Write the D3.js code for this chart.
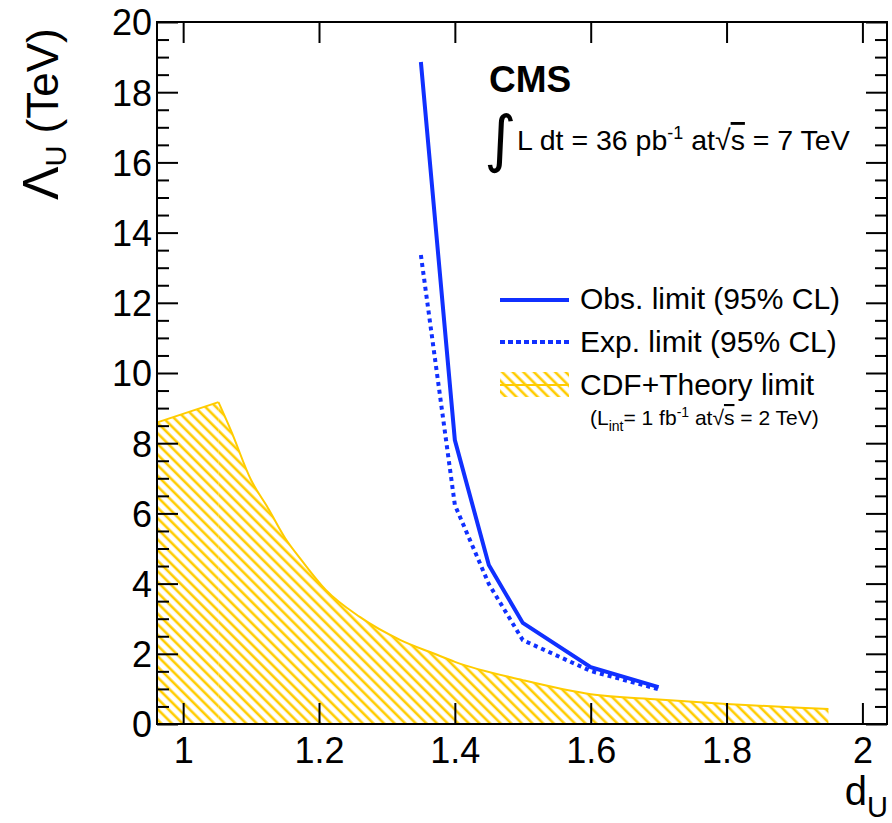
<!DOCTYPE html>
<html>
<head>
<meta charset="utf-8">
<script src="https://cdn.jsdelivr.net/npm/d3@7"></script>
<style>
  body { margin: 0; background: #fff; }
  svg { font-family: "Liberation Sans", Arial, sans-serif; }
  .axis path { display: none; }
  .axis line { stroke: #000; stroke-width: 2; }
  .axis text { font-size: 36px; fill: #000; font-family: "Liberation Sans", Arial, sans-serif; }
</style>
</head>
<body>
<svg id="chart" width="892" height="823"></svg>
<script>
// observed / expected CMS limits
const limitD = [1.35, 1.4, 1.45, 1.5, 1.6, 1.7];
const obsLimit = [18.86, 8.09, 4.53, 2.88, 1.62, 1.05];
const expLimit = [13.36, 6.24, 3.99, 2.39, 1.51, 0.99];

// CDF + theory excluded region (upper edge)
const cdfD = [0.96, 1.052, 1.07, 1.1, 1.125, 1.15, 1.175, 1.21, 1.26, 1.32, 1.37, 1.4, 1.5, 1.6, 1.7, 1.8, 1.9, 1.95];
const cdfLimit = [8.58, 9.17, 8.38, 6.95, 6.15, 5.3, 4.65, 3.82, 3.05, 2.39, 2.0, 1.77, 1.25, 0.85, 0.7, 0.57, 0.47, 0.43];

const xTicks = [1, 1.2, 1.4, 1.6, 1.8, 2];
const yTicks = [0, 2, 4, 6, 8, 10, 12, 14, 16, 18, 20];

const blue = "#1030ff";
const gold = "#ffcc00";

let svg = d3.select("#chart");
let margin = { top: 22, right: 5, bottom: 99, left: 157 };
let width = 892 - margin.left - margin.right;
let height = 823 - margin.top - margin.bottom;

let x = d3.scaleLinear().domain([0.9615, 2.0362]).range([0, width]);
let y = d3.scaleLinear().domain([0, 20]).range([height, 0]);

let defs = svg.append("defs");
defs.append("clipPath").attr("id", "plotClip")
  .append("rect").attr("width", width).attr("height", height);

let hatch = defs.append("pattern")
  .attr("id", "hatch")
  .attr("patternUnits", "userSpaceOnUse")
  .attr("width", 7.5).attr("height", 7.5)
  .attr("patternTransform", "rotate(-45)");
hatch.append("line")
  .attr("x1", 2).attr("y1", 0).attr("x2", 2).attr("y2", 7.5)
  .attr("stroke", gold).attr("stroke-width", 2.6);

let chart = svg.append("g").attr("transform", "translate(" + margin.left + "," + margin.top + ")");

// CDF hatched area: straight rise up to the peak, smooth fall after it
let plot = chart.append("g").attr("clip-path", "url(#plotClip)");
let cdfData = cdfD.map((d, i) => ({ d: d, v: cdfLimit[i] }));
let rise = cdfData.slice(0, 2);
let fall = cdfData.slice(1);
[[rise, d3.curveLinear], [fall, d3.curveMonotoneX]].forEach(function (seg) {
  plot.append("path")
    .datum(seg[0])
    .attr("fill", "url(#hatch)")
    .attr("d", d3.area().curve(seg[1]).x(p => x(p.d)).y0(y(0)).y1(p => y(p.v)));
  plot.append("path")
    .datum(seg[0])
    .attr("fill", "none")
    .attr("stroke", gold)
    .attr("stroke-width", 2)
    .attr("d", d3.line().curve(seg[1]).x(p => x(p.d)).y(p => y(p.v)));
});

// limit curves
let line = d3.line().x(p => x(p.d)).y(p => y(p.v));
plot.append("path")
  .datum(limitD.map((d, i) => ({ d: d, v: expLimit[i] })))
  .attr("fill", "none").attr("stroke", blue).attr("stroke-width", 4)
  .attr("stroke-dasharray", "4,4")
  .attr("d", line);
plot.append("path")
  .datum(limitD.map((d, i) => ({ d: d, v: obsLimit[i] })))
  .attr("fill", "none").attr("stroke", blue).attr("stroke-width", 4)
  .attr("d", line);

// axes
let yMinor = d3.range(0, 20.01, 0.5).filter(v => v % 2 !== 0);

chart.append("g").attr("class", "axis")
  .call(d3.axisLeft(y).tickValues(yTicks).tickSize(-21).tickPadding(5).tickFormat(d3.format("d")))
  .selectAll("text").attr("dy", "0.36em");
chart.append("g").attr("class", "axis")
  .call(d3.axisLeft(y).tickValues(yMinor).tickSize(-12).tickFormat(""));
chart.append("g").attr("class", "axis")
  .attr("transform", "translate(" + width + ",0)")
  .call(d3.axisRight(y).tickValues(yTicks).tickSize(-21).tickFormat(""));
chart.append("g").attr("class", "axis")
  .attr("transform", "translate(" + width + ",0)")
  .call(d3.axisRight(y).tickValues(yMinor).tickSize(-12).tickFormat(""));

chart.append("g").attr("class", "axis")
  .attr("transform", "translate(0," + height + ")")
  .call(d3.axisBottom(x).tickValues(xTicks).tickSize(-21).tickPadding(13).tickFormat(d3.format("~g")));
chart.append("g").attr("class", "axis")
  .call(d3.axisTop(x).tickValues(xTicks).tickSize(-21).tickFormat(""));

// frame
chart.append("rect")
  .attr("width", width).attr("height", height)
  .attr("fill", "none").attr("stroke", "#000").attr("stroke-width", 2);

// axis titles
let yt = svg.append("text")
  .attr("transform", "translate(58,200) rotate(-90)")
  .attr("font-size", 44);
yt.append("tspan").text("Λ").attr("font-size", 50);
yt.append("tspan").text("U").attr("font-size", 29).attr("dy", 8);
yt.append("tspan").text(" (TeV)").attr("dy", -8);

let xt = svg.append("text")
  .attr("x", 888).attr("y", 805)
  .attr("text-anchor", "end")
  .attr("font-size", 40);
xt.append("tspan").text("d");
xt.append("tspan").text("U").attr("font-size", 29).attr("dy", 12);

// CMS label
svg.append("text").attr("x", 489).attr("y", 92)
  .attr("font-size", 37).attr("font-weight", "bold").text("CMS");

svg.append("text").attr("x", 484).attr("y", 160)
  .attr("font-size", 62).attr("font-family", "DejaVu Sans").text("∫");

let lumi = svg.append("text").attr("x", 517).attr("y", 150).attr("font-size", 28.5);
lumi.append("tspan").text("L dt = 36 pb");
lumi.append("tspan").text("-1").attr("font-size", 18).attr("dy", -11);
lumi.append("tspan").text(" at√").attr("dy", 11);
lumi.append("tspan").text("s").style("text-decoration", "overline");
lumi.append("tspan").text(" = 7 TeV");

// legend
svg.append("line").attr("x1", 500).attr("x2", 569).attr("y1", 300).attr("y2", 300)
  .attr("stroke", blue).attr("stroke-width", 4);
svg.append("line").attr("x1", 500).attr("x2", 569).attr("y1", 342).attr("y2", 342)
  .attr("stroke", blue).attr("stroke-width", 4).attr("stroke-dasharray", "5,3");
svg.append("rect").attr("x", 500).attr("y", 372).attr("width", 69).attr("height", 25)
  .attr("fill", "url(#hatch)");
svg.append("line").attr("x1", 500).attr("x2", 569).attr("y1", 385).attr("y2", 385)
  .attr("stroke", gold).attr("stroke-width", 2);

svg.append("text").attr("x", 580).attr("y", 309).attr("font-size", 30).text("Obs. limit (95% CL)");
svg.append("text").attr("x", 580).attr("y", 352).attr("font-size", 30).text("Exp. limit (95% CL)");
svg.append("text").attr("x", 580).attr("y", 395).attr("font-size", 30).text("CDF+Theory limit");

let sub = svg.append("text").attr("x", 590).attr("y", 425).attr("font-size", 21);
sub.append("tspan").text("(L");
sub.append("tspan").text("int").attr("font-size", 14).attr("dy", 6);
sub.append("tspan").text("= 1 fb").attr("dy", -6);
sub.append("tspan").text("-1").attr("font-size", 14).attr("dy", -8);
sub.append("tspan").text(" at√").attr("dy", 8);
sub.append("tspan").text("s").style("text-decoration", "overline");
sub.append("tspan").text(" = 2 TeV)");
</script>
</body>
</html>
